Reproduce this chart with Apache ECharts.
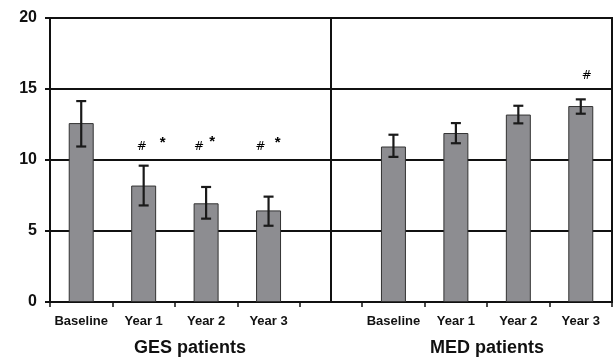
<!DOCTYPE html>
<html>
<head>
<meta charset="utf-8">
<script src="https://cdn.jsdelivr.net/npm/echarts@6/dist/echarts.min.js"></script>
<style>html,body{margin:0;padding:0;background:#fff}#c{width:615px;height:357px}</style>
</head>
<body>
<div id="c"></div>
<script>
var categories = ['Baseline', 'Year 1', 'Year 2', 'Year 3', '', 'Baseline', 'Year 1', 'Year 2', 'Year 3'];
var gesValues = [12.6, 8.2, 6.95, 6.45];
var gesHigh   = [14.15, 9.6, 8.1, 7.42];
var gesLow    = [10.95, 6.8, 5.87, 5.37];
var medValues = [10.95, 11.9, 13.2, 13.8];
var medHigh   = [11.78, 12.6, 13.82, 14.27];
var medLow    = [10.22, 11.18, 12.58, 13.26];
var yTicks = [0, 5, 10, 15, 20];
var groupLabels = ['GES patients', 'MED patients'];
// annotation marks: [category index, level]
var hashMarks = [[1, 10.94], [2, 10.94], [3, 10.94], [8, 15.9]];
var starMarks = [[1, 11.38], [2, 11.45], [3, 11.38]];

var FONT = '"Liberation Sans", Arial, sans-serif';
var values = gesValues.concat(['-']).concat(medValues);
var errData = [];
gesValues.forEach(function (v, i) { errData.push([i, gesLow[i], gesHigh[i]]); });
medValues.forEach(function (v, i) { errData.push([i + 5, medLow[i], medHigh[i]]); });
var hashDx = [-2, -7, -8, 6];
var starDx = [19, 6, 9];

var chart = echarts.init(document.getElementById('c'));
chart.setOption({
  animation: false,
  grid: { left: 50, right: 3, top: 18, bottom: 55, show: true, borderColor: '#111', borderWidth: 2 },
  xAxis: {
    type: 'category', data: categories, boundaryGap: true,
    axisLine: { lineStyle: { color: '#111', width: 2 } },
    axisTick: { show: true, length: 5, lineStyle: { color: '#111', width: 1.5 }, interval: 0 },
    axisLabel: { interval: 0, margin: 13, color: '#111', fontFamily: FONT, fontWeight: 'bold', fontSize: 13 },
    splitLine: { show: false }
  },
  yAxis: {
    type: 'value', min: yTicks[0], max: yTicks[yTicks.length - 1], interval: 5,
    axisLine: { show: true, lineStyle: { color: '#111', width: 2 } },
    axisTick: { show: true, length: 5, lineStyle: { color: '#111', width: 2 } },
    axisLabel: { margin: 13, color: '#111', fontFamily: FONT, fontWeight: 'bold', fontSize: 16 },
    splitLine: { show: true, lineStyle: { color: '#111', width: 2 } }
  },
  series: [
    {
      type: 'bar', data: values, barWidth: '40%',
      itemStyle: { color: '#8d8d91', borderColor: '#333', borderWidth: 1 },
      markLine: {
        silent: true, symbol: 'none', label: { show: false },
        lineStyle: { color: '#111', width: 2, type: 'solid' },
        data: [{ xAxis: 4 }]
      },
      z: 2
    },
    {
      type: 'custom', data: errData, z: 3,
      renderItem: function (params, api) {
        var x = api.value(0);
        var lo = api.coord([x, api.value(1)]);
        var hi = api.coord([x, api.value(2)]);
        var hw = 5;
        var st = { stroke: '#1a1a1a', lineWidth: 2.2 };
        return { type: 'group', children: [
          { type: 'line', shape: { x1: lo[0], y1: lo[1], x2: hi[0], y2: hi[1] }, style: st },
          { type: 'line', shape: { x1: lo[0] - hw, y1: lo[1], x2: lo[0] + hw, y2: lo[1] }, style: st },
          { type: 'line', shape: { x1: hi[0] - hw, y1: hi[1], x2: hi[0] + hw, y2: hi[1] }, style: st }
        ] };
      }
    },
    {
      type: 'scatter', symbolSize: 0, z: 4, silent: true, itemStyle: { opacity: 1 },
      data: hashMarks.map(function (m, i) {
        return { value: m, label: { show: true, formatter: '#', position: 'inside', offset: [hashDx[i], 0],
          color: '#000', opacity: 1, fontFamily: '"DejaVu Sans", sans-serif', fontSize: 12 } };
      })
    },
    {
      type: 'scatter', symbolSize: 0, z: 4, silent: true, itemStyle: { opacity: 1 },
      data: starMarks.map(function (m, i) {
        return { value: m, label: { show: true, formatter: '*', position: 'inside', offset: [starDx[i], 2],
          color: '#000', opacity: 1, fontFamily: FONT, fontWeight: 'bold', fontSize: 15 } };
      })
    }
  ],
  graphic: [
    { type: 'text', x: 190, y: 348, style: { text: groupLabels[0], textAlign: 'center', textVerticalAlign: 'middle', font: 'bold 18px ' + FONT, fill: '#111' } },
    { type: 'text', x: 487, y: 348, style: { text: groupLabels[1], textAlign: 'center', textVerticalAlign: 'middle', font: 'bold 18px ' + FONT, fill: '#111' } }
  ]
});
</script>
</body>
</html>
